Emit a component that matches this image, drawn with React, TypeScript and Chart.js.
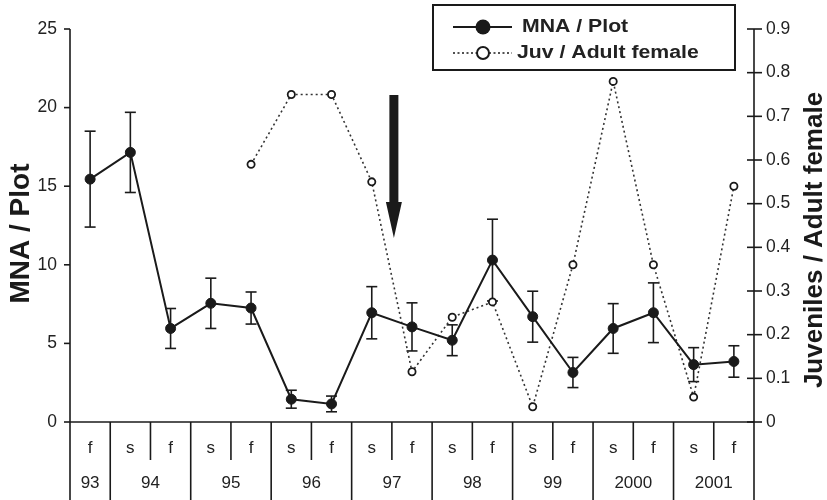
import React, { useEffect, useRef } from 'react';
import { Chart, registerables } from 'chart.js';

Chart.register(...registerables);

// ---- data ----
const seasons = ['f', 's', 'f', 's', 'f', 's', 'f', 's', 'f', 's', 'f', 's', 'f', 's', 'f', 's', 'f'];
const years = ['93', '94', '94', '95', '95', '96', '96', '97', '97', '98', '98', '99', '99', '2000', '2000', '2001', '2001'];
const mnaPerPlot = [15.45, 17.15, 5.95, 7.55, 7.25, 1.45, 1.15, 6.95, 6.05, 5.2, 10.3, 6.7, 3.15, 5.95, 6.95, 3.65, 3.85];
const mnaSE = [3.05, 2.55, 1.27, 1.6, 1.02, 0.57, 0.5, 1.66, 1.53, 0.98, 2.6, 1.62, 0.96, 1.58, 1.9, 1.08, 1.0];
const juvPerAdultFemale: (number | null)[] = [null, null, null, null, 0.59, 0.75, 0.75, 0.55, 0.115, 0.24, 0.275, 0.035, 0.36, 0.78, 0.36, 0.057, 0.54];
const mnaTicks = [0, 5, 10, 15, 20, 25];
const juvTicks = [0, 0.1, 0.2, 0.3, 0.4, 0.5, 0.6, 0.7, 0.8, 0.9];
const juvTickLabels = ['0', '0.1', '0.2', '0.3', '0.4', '0.5', '0.6', '0.7', '0.8', '0.9'];
const seriesNames = ['MNA / Plot', 'Juv / Adult female'];
const leftTitle = 'MNA / Plot';
const rightTitle = 'Juveniles / Adult female';
// arrow marker: category position and MNA-axis values (top, head start, tip)
const arrowAt = 7.55;
const arrowTop = 20.8;
const arrowHead = 14.0;
const arrowTip = 11.7;

const INK = '#1a1a1a';
const TEXT = '#222';
const FAMILY = '"Liberation Sans", Arial, Helvetica, sans-serif';

const customPlugin = {
  id: 'customDecor',
  beforeDatasetsDraw(chart: any) {
    const { ctx, chartArea: a, scales } = chart;
    const xs = scales.x, ys = scales.y, ys1 = scales.y1;
    const H = chart.height;
    const seg = (x1: number, y1: number, x2: number, y2: number) => {
      ctx.beginPath();
      ctx.moveTo(x1, y1);
      ctx.lineTo(x2, y2);
      ctx.stroke();
    };
    ctx.save();
    ctx.strokeStyle = INK;
    ctx.lineWidth = 1.6;
    // axes lines
    seg(a.left, a.top, a.left, H);
    seg(a.right, a.top, a.right, H);
    seg(a.left, a.bottom, a.right, a.bottom);
    // tick marks
    ys.ticks.forEach((t: any) => {
      const py = ys.getPixelForValue(t.value);
      seg(a.left - 6, py, a.left, py);
    });
    ys1.ticks.forEach((t: any) => {
      const py = ys1.getPixelForValue(t.value);
      seg(a.right - 7, py, a.right + 8, py);
    });
    // category table dividers
    const n = seasons.length;
    for (let i = 0; i < n - 1; i++) {
      const xm = (xs.getPixelForValue(i) + xs.getPixelForValue(i + 1)) / 2;
      const full = years[i] !== years[i + 1];
      seg(xm, a.bottom, xm, full ? H : a.bottom + 38);
    }
    // labels
    ctx.fillStyle = TEXT;
    ctx.font = `17px ${FAMILY}`;
    ctx.textAlign = 'center';
    ctx.textBaseline = 'middle';
    seasons.forEach((s, i) => ctx.fillText(s, xs.getPixelForValue(i), a.bottom + 26));
    let start = 0;
    for (let i = 1; i <= n; i++) {
      if (i === n || years[i] !== years[start]) {
        const cx = (xs.getPixelForValue(start) + xs.getPixelForValue(i - 1)) / 2;
        ctx.fillText(years[start], cx, a.bottom + 61);
        start = i;
      }
    }
    // error bars
    ctx.lineWidth = 1.6;
    mnaPerPlot.forEach((v, i) => {
      const px = xs.getPixelForValue(i);
      const top = ys.getPixelForValue(v + mnaSE[i]);
      const bot = ys.getPixelForValue(v - mnaSE[i]);
      seg(px, top, px, bot);
      seg(px - 5.5, top, px + 5.5, top);
      seg(px - 5.5, bot, px + 5.5, bot);
    });
    ctx.restore();
  },
  afterDraw(chart: any) {
    const { ctx, scales } = chart;
    const xs = scales.x, ys = scales.y;
    ctx.save();
    // arrow
    const ax = xs.getPixelForValue(arrowAt);
    const yTop = ys.getPixelForValue(arrowTop);
    const yHead = ys.getPixelForValue(arrowHead);
    const yTip = ys.getPixelForValue(arrowTip);
    ctx.fillStyle = INK;
    ctx.beginPath();
    ctx.moveTo(ax - 4.5, yTop);
    ctx.lineTo(ax + 4.5, yTop);
    ctx.lineTo(ax + 4.5, yHead);
    ctx.lineTo(ax + 8, yHead);
    ctx.lineTo(ax, yTip);
    ctx.lineTo(ax - 8, yHead);
    ctx.lineTo(ax - 4.5, yHead);
    ctx.closePath();
    ctx.fill();

    // legend
    ctx.strokeStyle = INK;
    ctx.lineWidth = 2;
    ctx.fillStyle = '#fff';
    ctx.fillRect(433, 5, 302, 65);
    ctx.strokeRect(433, 5, 302, 65);
    const rows = [27, 53];
    // row 1
    ctx.setLineDash([]);
    ctx.beginPath();
    ctx.moveTo(453, rows[0]);
    ctx.lineTo(512, rows[0]);
    ctx.stroke();
    ctx.fillStyle = INK;
    ctx.beginPath();
    ctx.arc(483, rows[0], 7.5, 0, Math.PI * 2);
    ctx.fill();
    // row 2
    ctx.lineWidth = 1.6;
    ctx.setLineDash([2, 2.5]);
    ctx.beginPath();
    ctx.moveTo(453, rows[1]);
    ctx.lineTo(512, rows[1]);
    ctx.stroke();
    ctx.setLineDash([]);
    ctx.fillStyle = '#fff';
    ctx.beginPath();
    ctx.arc(483, rows[1], 6, 0, Math.PI * 2);
    ctx.fill();
    ctx.lineWidth = 2;
    ctx.stroke();
    ctx.fillStyle = TEXT;
    ctx.font = `bold 18px ${FAMILY}`;
    ctx.textAlign = 'left';
    ctx.textBaseline = 'middle';
    seriesNames.forEach((name, i) => {
      ctx.save();
      ctx.translate(i === 0 ? 522 : 517, rows[i]);
      ctx.scale(1.18, 1);
      ctx.fillText(name, 0, 0);
      ctx.restore();
    });

    // axis titles (both read bottom-to-top)
    ctx.fillStyle = INK;
    ctx.textAlign = 'center';
    ctx.textBaseline = 'alphabetic';
    ctx.font = `bold 28px ${FAMILY}`;
    ctx.save();
    ctx.translate(29, 233.5);
    ctx.rotate(-Math.PI / 2);
    ctx.fillText(leftTitle, 0, 0);
    ctx.restore();
    ctx.font = `bold 26px ${FAMILY}`;
    ctx.save();
    ctx.translate(822, 240);
    ctx.rotate(-Math.PI / 2);
    ctx.fillText(rightTitle, 0, 0);
    ctx.restore();
    ctx.restore();
  },
};

export default function App() {
  const ref = useRef<HTMLCanvasElement | null>(null);
  useEffect(() => {
    if (!ref.current) return;
    const chart = new Chart(ref.current, {
      type: 'line',
      data: {
        labels: seasons.map((s, i) => `${s} ${years[i]}`),
        datasets: [
          {
            label: seriesNames[0],
            data: mnaPerPlot,
            yAxisID: 'y',
            borderColor: INK,
            borderWidth: 2,
            pointRadius: 5,
            pointBackgroundColor: INK,
            pointBorderColor: INK,
            pointBorderWidth: 1,
            tension: 0,
            order: 1,
          },
          {
            label: seriesNames[1],
            data: juvPerAdultFemale,
            yAxisID: 'y1',
            borderColor: '#333',
            borderWidth: 1.6,
            borderDash: [2, 3],
            pointRadius: 3.6,
            pointBackgroundColor: '#fff',
            pointBorderColor: INK,
            pointBorderWidth: 1.8,
            tension: 0,
            spanGaps: false,
            order: 2,
          },
        ],
      },
      options: {
        responsive: false,
        animation: false,
        devicePixelRatio: 1,
        layout: { padding: { top: 29, bottom: 78, left: 0, right: 0 } },
        plugins: {
          legend: { display: false },
          tooltip: { enabled: false },
          title: { display: false },
        },
        scales: {
          x: {
            type: 'category',
            offset: true,
            display: false,
          },
          y: {
            position: 'left',
            min: 0,
            max: 25,
            afterBuildTicks: (s: any) => {
              s.ticks = mnaTicks.map((v) => ({ value: v }));
            },
            afterFit: (s: any) => {
              s.width = 70;
            },
            grid: { display: false, drawTicks: false },
            border: { display: false },
            ticks: {
              padding: 13,
              color: TEXT,
              font: { family: FAMILY, size: 17.5 },
              callback: (v: any) => String(v),
            },
          },
          y1: {
            position: 'right',
            min: 0,
            max: 0.9,
            afterBuildTicks: (s: any) => {
              s.ticks = juvTicks.map((v) => ({ value: v }));
            },
            afterFit: (s: any) => {
              s.width = 73;
            },
            grid: { display: false, drawTicks: false },
            border: { display: false },
            ticks: {
              padding: 12,
              color: TEXT,
              font: { family: FAMILY, size: 17.5 },
              callback: (v: any) => {
                const idx = juvTicks.findIndex((t) => Math.abs(t - Number(v)) < 1e-9);
                return idx >= 0 ? juvTickLabels[idx] : String(v);
              },
            },
          },
        },
      } as any,
      plugins: [customPlugin],
    });
    return () => chart.destroy();
  }, []);
  return (
    <div style={{ position: 'absolute', left: 0, top: 0, width: 827, height: 500, background: '#fff' }}>
      <canvas ref={ref} width={827} height={500} style={{ display: 'block', width: 827, height: 500 }} />
    </div>
  );
}
